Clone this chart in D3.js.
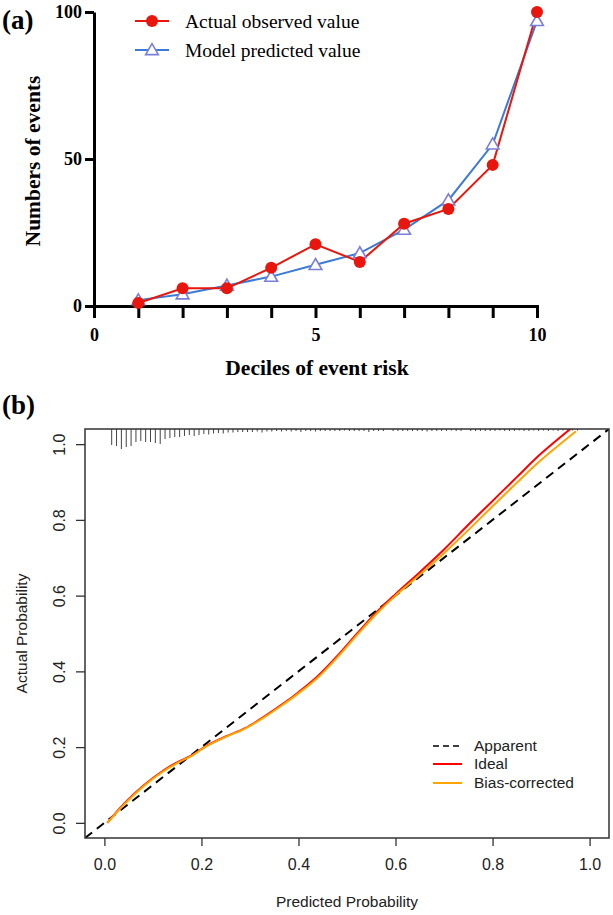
<!DOCTYPE html>
<html>
<head>
<meta charset="utf-8">
<script src="https://cdn.jsdelivr.net/npm/d3@7"></script>
<style>
  html, body { margin: 0; padding: 0; background: #fff; }
  svg { display: block; }
</style>
</head>
<body>
<svg id="chart" width="613" height="915"></svg>
<script>
// ---------- Panel (a) data ----------
const deciles = [1, 2, 3, 4, 5, 6, 7, 8, 9, 10];
const actualObserved = [1, 6, 6, 13, 21, 15, 28, 33, 48, 100];
const modelPredicted = [2, 4, 7, 10, 14, 18, 26, 36, 55, 97];
const aXTickValues = [0, 1, 2, 3, 4, 5, 6, 7, 8, 9, 10];
const aXTickLabels = [0, 5, 10];
const aYTickValues = [0, 50, 100];
const aLegend = ["Actual observed value", "Model predicted value"];

// ---------- Panel (b) data ----------
const idealX = [0.006, 0.04, 0.08, 0.12, 0.15, 0.18, 0.21, 0.25, 0.29, 0.33, 0.37, 0.40, 0.44, 0.48, 0.52, 0.56, 0.60, 0.65, 0.70, 0.75, 0.80, 0.85, 0.90, 0.965];
const idealY = [0.0, 0.05, 0.098, 0.137, 0.16, 0.178, 0.203, 0.228, 0.25, 0.281, 0.316, 0.345, 0.388, 0.441, 0.499, 0.555, 0.604, 0.662, 0.722, 0.787, 0.85, 0.913, 0.975, 1.045];
const biasX = [0.006, 0.04, 0.08, 0.12, 0.15, 0.18, 0.21, 0.25, 0.29, 0.33, 0.37, 0.40, 0.44, 0.48, 0.52, 0.56, 0.60, 0.65, 0.70, 0.75, 0.80, 0.85, 0.90, 0.972];
const biasY = [0.0, 0.048, 0.096, 0.135, 0.158, 0.177, 0.202, 0.227, 0.249, 0.279, 0.314, 0.342, 0.384, 0.437, 0.495, 0.551, 0.6, 0.655, 0.712, 0.773, 0.836, 0.898, 0.958, 1.034];
const apparentX = [-0.04, 1.04];
const apparentY = [-0.04, 1.04];
const rugX = d3.range(0.015, 0.98, 0.01).map(v => +v.toFixed(3));
const rugCount = [16, 17, 20, 18, 17, 13, 12, 13, 13, 14, 15, 10, 9, 8, 8, 7, 6, 7, 6, 5, 5.5, 4.5, 4, 4.5, 3.5, 3.5, 3, 3, 3, 3, 2.5, 3.5, 2.5, 2.5, 2, 2.5, 2, 2.5, 2, 3, 2, 2, 2.5, 2, 2, 2, 2, 2, 1.5, 2, 2, 2, 2, 3, 2, 2, 2, 0, 2, 2, 2, 2, 2, 2, 2, 2.5, 2, 2, 2, 2, 1.5, 2, 2, 0, 2, 2, 2, 2, 2, 2, 1.5, 2, 2, 2, 1.5, 2, 2, 1.5, 2, 1.5, 2, 1.5, 2, 1.5, 2, 1.5, 1.5];
const bTickValues = [0, 0.2, 0.4, 0.6, 0.8, 1.0];
const bLegend = ["Apparent", "Ideal", "Bias-corrected"];

const svg = d3.select("#chart");
const serif = "'Liberation Serif', 'Times New Roman', serif";
const sans = "'Liberation Sans', Arial, sans-serif";

// ================= Panel (a) =================
const ax = d3.scaleLinear().domain([0, 10]).range([94, 537]);
const ay = d3.scaleLinear().domain([0, 100]).range([306, 12]);
const ga = svg.append("g");

ga.append("text").attr("x", 2).attr("y", 29)
  .attr("font-family", serif).attr("font-weight", "bold").attr("font-size", 27)
  .text("(a)");

const yAxisA = ga.append("g").attr("transform", `translate(${ax(0)},0)`)
  .call(d3.axisLeft(ay).tickValues(aYTickValues).tickSize(9).tickSizeOuter(0).tickPadding(3));
const xAxisA = ga.append("g").attr("transform", `translate(0,${ay(0)})`)
  .call(d3.axisBottom(ax).tickValues(aXTickValues).tickSize(12).tickSizeOuter(0).tickPadding(10)
    .tickFormat(d => aXTickLabels.includes(d) ? d : ""));
[yAxisA, xAxisA].forEach(g => {
  g.select(".domain").attr("stroke", "#000").attr("stroke-width", 3).attr("stroke-linecap", "square");
  g.selectAll(".tick line").attr("stroke", "#000").attr("stroke-width", 3);
  g.selectAll(".tick text").attr("font-family", serif).attr("font-weight", "bold")
    .attr("font-size", 18).attr("fill", "#000");
});
yAxisA.select(".domain").attr("stroke-linecap", "butt");

ga.append("text").attr("x", 317).attr("y", 375).attr("text-anchor", "middle")
  .attr("font-family", serif).attr("font-weight", "bold").attr("font-size", 21.5)
  .text("Deciles of event risk");
ga.append("text").attr("transform", `translate(40,161) rotate(-90)`).attr("text-anchor", "middle")
  .attr("font-family", serif).attr("font-weight", "bold").attr("font-size", 21.5)
  .text("Numbers of events");

const redA = "#e8160c", blueLine = "#3b7bd6", blueMark = "#7a7fd6";
const lineA = d3.line().x((d, i) => ax(deciles[i])).y(d => ay(d));

ga.append("path").datum(modelPredicted).attr("d", lineA)
  .attr("fill", "none").attr("stroke", blueLine).attr("stroke-width", 2);
ga.append("path").datum(actualObserved).attr("d", lineA)
  .attr("fill", "none").attr("stroke", redA).attr("stroke-width", 2);

const tri = d3.symbol().type(d3.symbolTriangle).size(70);
ga.selectAll(".tri").data(modelPredicted).join("path")
  .attr("transform", (d, i) => `translate(${ax(deciles[i])},${ay(d) + 1})`)
  .attr("d", tri).attr("fill", "#fff").attr("stroke", blueMark).attr("stroke-width", 1.6);
ga.selectAll(".dot").data(actualObserved).join("circle")
  .attr("cx", (d, i) => ax(deciles[i])).attr("cy", d => ay(d)).attr("r", 6)
  .attr("fill", redA);

const legA = [{ y: 21, color: redA, mark: "circle" }, { y: 50, color: blueLine, mark: "tri" }];
legA.forEach((l, i) => {
  ga.append("line").attr("x1", 135).attr("x2", 169).attr("y1", l.y).attr("y2", l.y)
    .attr("stroke", l.color).attr("stroke-width", 2);
  if (l.mark === "circle") {
    ga.append("circle").attr("cx", 152).attr("cy", l.y).attr("r", 6).attr("fill", redA);
  } else {
    ga.append("path").attr("transform", `translate(152,${l.y + 1})`).attr("d", tri)
      .attr("fill", "#fff").attr("stroke", blueMark).attr("stroke-width", 1.6);
  }
  ga.append("text").attr("x", 185).attr("y", l.y).attr("dy", "0.35em")
    .attr("font-family", serif).attr("font-size", 19.5).attr("fill", "#000")
    .text(aLegend[i]);
});

// ================= Panel (b) =================
const bx = d3.scaleLinear().domain([-0.04, 1.04]).range([85, 609]);
const by = d3.scaleLinear().domain([-0.04, 1.04]).range([838, 429]);
const gb = svg.append("g");
const ink = "#333";

gb.append("text").attr("x", 2).attr("y", 414)
  .attr("font-family", serif).attr("font-weight", "bold").attr("font-size", 27)
  .text("(b)");

gb.append("clipPath").attr("id", "clipB").append("rect")
  .attr("x", bx(-0.04)).attr("y", by(1.04)).attr("width", bx(1.04) - bx(-0.04)).attr("height", by(-0.04) - by(1.04));

const rugLen = d3.scaleLinear().domain([0, d3.max(rugCount)]).range([0, 20]);
gb.selectAll(".rug").data(rugX).join("line")
  .attr("x1", d => bx(d)).attr("x2", d => bx(d))
  .attr("y1", by(1.04)).attr("y2", (d, i) => by(1.04) + rugLen(rugCount[i]))
  .attr("stroke", "#444").attr("stroke-width", 1);

const lineB = d3.line().curve(d3.curveCatmullRom.alpha(0.5));
const plot = gb.append("g").attr("clip-path", "url(#clipB)");
plot.append("path").attr("d", lineB(apparentX.map((x, i) => [bx(x), by(apparentY[i])])))
  .attr("fill", "none").attr("stroke", "#000").attr("stroke-width", 2).attr("stroke-dasharray", "9,6");
plot.append("path").attr("d", lineB(idealX.map((x, i) => [bx(x), by(idealY[i])])))
  .attr("fill", "none").attr("stroke", "#ff0000").attr("stroke-width", 2);
plot.append("path").attr("d", lineB(biasX.map((x, i) => [bx(x), by(biasY[i])])))
  .attr("fill", "none").attr("stroke", "#ffa500").attr("stroke-width", 2);

gb.append("rect").attr("x", bx(-0.04)).attr("y", by(1.04))
  .attr("width", bx(1.04) - bx(-0.04)).attr("height", by(-0.04) - by(1.04))
  .attr("fill", "none").attr("stroke", ink).attr("stroke-width", 1.5);

const xAxisB = gb.append("g").attr("transform", `translate(0,${by(-0.04)})`)
  .call(d3.axisBottom(bx).tickValues(bTickValues).tickFormat(d3.format(".1f")).tickSize(8).tickSizeOuter(0).tickPadding(13));
const yAxisB = gb.append("g").attr("transform", `translate(${bx(-0.04)},0)`)
  .call(d3.axisLeft(by).tickValues(bTickValues).tickFormat(d3.format(".1f")).tickSize(9).tickSizeOuter(0));
[xAxisB, yAxisB].forEach(g => {
  g.select(".domain").remove();
  g.selectAll(".tick line").attr("stroke", ink).attr("stroke-width", 1.3);
  g.selectAll(".tick text").attr("font-family", sans).attr("font-size", 16).attr("fill", "#222");
});
yAxisB.selectAll(".tick text")
  .attr("x", null).attr("dy", null).attr("text-anchor", "middle")
  .attr("transform", "translate(-20,0) rotate(-90)");

gb.append("text").attr("x", (bx(-0.04) + bx(1.04)) / 2).attr("y", 907).attr("text-anchor", "middle")
  .attr("font-family", sans).attr("font-size", 15.5).attr("fill", "#222")
  .text("Predicted Probability");
gb.append("text").attr("transform", `translate(27,${(by(-0.04) + by(1.04)) / 2}) rotate(-90)`).attr("text-anchor", "middle")
  .attr("font-family", sans).attr("font-size", 15.5).attr("fill", "#222")
  .text("Actual Probability");

const legB = [
  { y: 746, color: "#000", dash: "6,4" },
  { y: 764, color: "#ff0000", dash: null },
  { y: 783, color: "#ffa500", dash: null }
];
legB.forEach((l, i) => {
  gb.append("line").attr("x1", 433).attr("x2", 462).attr("y1", l.y).attr("y2", l.y)
    .attr("stroke", l.color).attr("stroke-width", l.dash ? 1.3 : 2)
    .attr("stroke-dasharray", l.dash);
  gb.append("text").attr("x", 474).attr("y", l.y).attr("dy", "0.35em")
    .attr("font-family", sans).attr("font-size", 15.5).attr("fill", "#222")
    .text(bLegend[i]);
});
</script>
</body>
</html>
